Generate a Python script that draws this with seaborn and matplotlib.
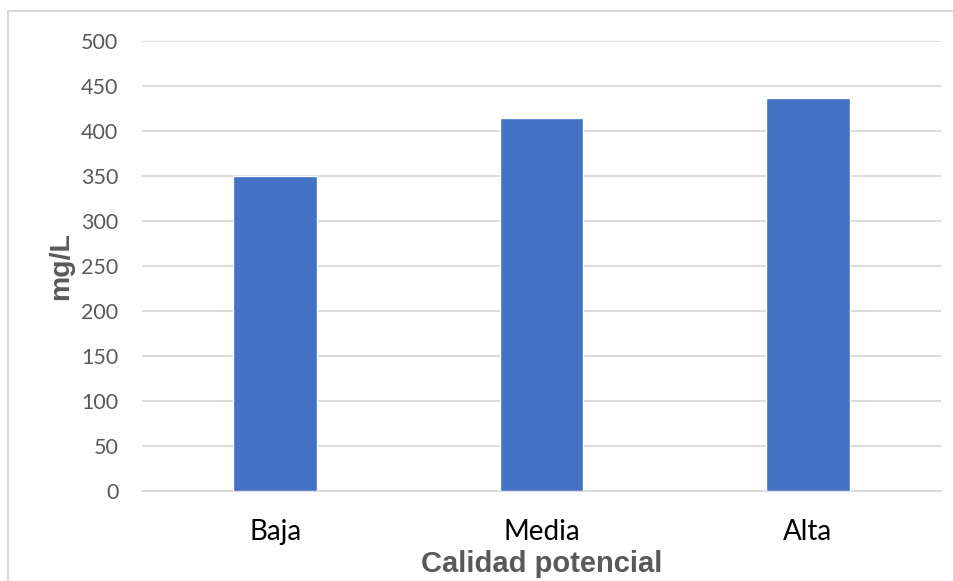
import matplotlib
matplotlib.use("Agg")
import matplotlib.pyplot as plt
from matplotlib.lines import Line2D
import seaborn as sns
import pandas as pd

categorias = ["Baja", "Media", "Alta"]
valores = [350, 415, 437]
ticks_y = [0, 50, 100, 150, 200, 250, 300, 350, 400, 450, 500]

df = pd.DataFrame({"Calidad potencial": categorias, "mg/L": valores})

sns.set_theme(style="white")
plt.rcParams["font.family"] = ["Lato", "DejaVu Sans"]

W, H = 954, 581
fig = plt.figure(figsize=(W / 100, H / 100), dpi=100)
ax = fig.add_axes([142 / W, (H - 491) / H, (941 - 142) / W, (491 - 41) / H])

sns.barplot(data=df, x="Calidad potencial", y="mg/L", color="#4472C4",
            width=0.315, saturation=1, ax=ax, zorder=3)

ax.set_ylim(0, 500)
ax.set_xlim(-0.5, 2.5)
ax.set_yticks(ticks_y)
ax.yaxis.grid(True, color="#d9d9d9", linewidth=1.3, zorder=0)
ax.set_axisbelow(True)
for s in ["top", "right", "left"]:
    ax.spines[s].set_visible(False)
ax.spines["bottom"].set_color("#d9d9d9")
ax.spines["bottom"].set_linewidth(1.3)
ax.tick_params(axis="y", length=0, pad=17, labelsize=15.5, labelcolor="#595959")
ax.tick_params(axis="x", length=0, pad=20, labelsize=20, labelcolor="#000000")

ax.set_xlabel("Calidad potencial", fontsize=21, fontweight="bold",
              color="#595959", family=["Liberation Sans", "DejaVu Sans"], labelpad=4)
ax.set_ylabel("mg/L", fontsize=20.5, fontweight="bold",
              color="#595959", family=["Liberation Sans", "DejaVu Sans"], labelpad=5)

# chart area frame (left and top edges)
fig.add_artist(Line2D([8 / W, 8 / W], [0, (H - 11) / H], color="#d9d9d9",
                      linewidth=1.5, transform=fig.transFigure))
fig.add_artist(Line2D([8 / W, 1], [(H - 11) / H, (H - 11) / H], color="#d9d9d9",
                      linewidth=1.5, transform=fig.transFigure))

fig.savefig("out.png", dpi=100, facecolor="white")
